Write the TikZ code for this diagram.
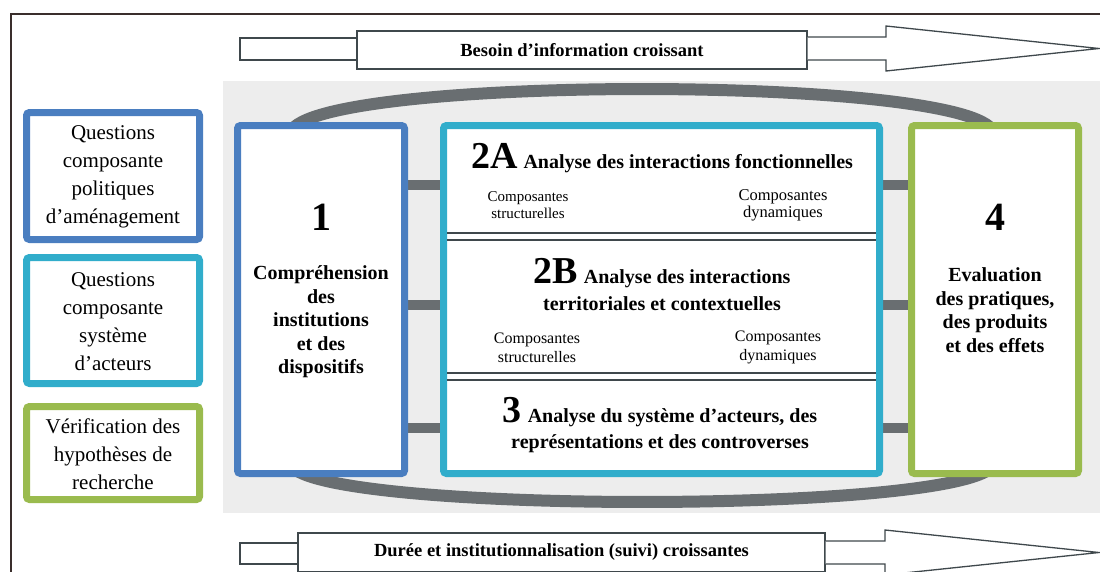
\documentclass[tikz,border=0pt]{standalone}
\usepackage{fontspec}
\setmainfont{Liberation Serif}
\definecolor{cblue}{HTML}{4A7EC0}
\definecolor{ccyan}{HTML}{31ADCB}
\definecolor{cgreen}{HTML}{9ABB4E}
\definecolor{bggray}{HTML}{EDEDED}
\definecolor{ringgray}{HTML}{696E71}
\definecolor{divgray}{HTML}{3F484C}
\definecolor{framec}{HTML}{3A2E2C}
\pgfdeclarelayer{bg}
\pgfsetlayers{bg,main}
\begin{document}
\begin{tikzpicture}[x=1pt,y=-1pt,
  box/.style={draw, line width=7pt, fill=white, rounded corners=3pt, inner sep=0pt},
  qtext/.style={font=\fontsize{21}{28}\selectfont, align=center, inner sep=0pt},
  btext/.style={font=\fontsize{20}{23.5}\selectfont\bfseries, align=center, inner sep=0pt},
  bignum/.style={font=\fontsize{40}{40}\selectfont\bfseries, inner sep=0pt},
  subtext/.style={font=\fontsize{15.5}{17}\selectfont, align=center, inner sep=0pt},
  arrline/.style={draw=divgray, line width=1.3pt, fill=white},
  arrtext/.style={arrline, font=\fontsize{18.5}{20}\selectfont\bfseries, inner sep=0pt},
  bar/.style={draw=ringgray, line width=10.5pt},
  ring/.style={draw=ringgray, line width=12pt},
  divider/.style={draw=divgray, line width=1.8pt}]
\useasboundingbox (0,0) rectangle (1100,571);

% frame
\draw[framec, line width=1.4pt] (11,575) -- (11,14) -- (1105,14);

% left question boxes
\node[box, draw=cblue, minimum width=173, minimum height=127] (q1) at (113,176) {};
\node[qtext] (q1t) at (113,177) {Questions\\composante\\politiques\\d’aménagement};
\node[box, draw=ccyan, minimum width=173, minimum height=126] (q2) at (113,320.5) {};
\node[qtext] (q2t) at (113,322) {Questions\\composante\\système\\d’acteurs};
\node[box, draw=cgreen, minimum width=173, minimum height=93] (q3) at (113,453) {};
\node[qtext] (q3t) at (113,454) {Vérification des\\hypothèses de\\recherche};

% main boxes
\node[box, draw=cblue, minimum width=167, minimum height=348] (b1) at (321,299.5) {};
\node[box, draw=ccyan, minimum width=436, minimum height=348] (b2) at (661.5,299.5) {};
\node[box, draw=cgreen, minimum width=167, minimum height=348] (b4) at (995,299.5) {};

\begin{pgfonlayer}{bg}
  \fill[bggray] (223,81) rectangle (1100,513);
  \draw[ring] (290,135) .. controls (290,73.7) and (994,73.7) .. (994,135)
     -- (994,462) .. controls (994,515.3) and (290,515.3) .. (290,462) -- cycle;
  \foreach \yy in {185,305,428}{
    \draw[bar] (b1.east |- 0,\yy) -- (b2.west |- 0,\yy);
    \draw[bar] (b2.east |- 0,\yy) -- (b4.west |- 0,\yy);
  }
\end{pgfonlayer}

% box 1 texts
\node[bignum] (n1) at (321,217) {1};
\node[btext] (t1) at (321,322) {Compréhension\\des\\institutions\\et des\\dispositifs};

% box 4 texts
\node[bignum] (n4) at (995,217) {4};
\node[btext] (t4) at (995,310) {Evaluation\\des pratiques,\\des produits\\et des effets};

% box 2 dividers
\draw[divider] (447,233) -- (876,233);
\draw[divider] (447,240) -- (876,240);
\draw[divider] (447,373) -- (876,373);
\draw[divider] (447,380) -- (876,380);

% 2A
\node[anchor=base, inner sep=0pt, font=\bfseries] (h2a) at (662,168)
  {{\fontsize{38}{38}\selectfont 2A}\hspace{6pt}{\fontsize{20}{20}\selectfont Analyse des interactions fonctionnelles}};
\node[subtext, font=\fontsize{15}{16.5}\selectfont] (s2al) at (528,205) {Composantes\\structurelles};
\node[subtext, font=\fontsize{16.5}{17}\selectfont] (s2ar) at (783,205.5) {Composantes\\dynamiques};

% 2B
\node[anchor=base, inner sep=0pt, font=\bfseries] (h2b) at (662,283)
  {{\fontsize{38}{38}\selectfont 2B}\hspace{6pt}{\fontsize{20}{20}\selectfont Analyse des interactions}};
\node[anchor=base, inner sep=0pt, font=\fontsize{20}{20}\selectfont\bfseries] (h2b2) at (662,310)
  {territoriales et contextuelles};
\node[subtext, font=\fontsize{16}{19}\selectfont] (s2bl) at (537,347.5) {Composantes\\structurelles};
\node[subtext, font=\fontsize{16}{19}\selectfont] (s2br) at (778,347.5) {Composantes\\dynamiques};

% 3
\node[anchor=base, inner sep=0pt, font=\bfseries] (h3) at (660,422)
  {{\fontsize{38}{38}\selectfont 3}\hspace{6pt}{\fontsize{20}{20}\selectfont Analyse du système d’acteurs, des}};
\node[anchor=base, inner sep=0pt, font=\fontsize{20}{20}\selectfont\bfseries] (h32) at (660,448)
  {représentations et des controverses};

% top arrow
\draw[arrline] (240,38) rectangle (357,60);
\node[arrtext, minimum width=450, minimum height=38] (tbox) at (582,50) {Besoin d’information croissant};
\draw[arrline, line join=miter] (tbox.east |- 0,37) -- (886,37) -- (886,26) -- (1099,48.5) -- (886,71) -- (886,60) -- (tbox.east |- 0,60);

% bottom arrow
\draw[arrline] (240,543) rectangle (298,564);
\node[arrtext, minimum width=527, minimum height=39] (bbox) at (561.5,552.5) {Durée et institutionnalisation (suivi) croissantes};
\draw[arrline, line join=miter] (bbox.east |- 0,541) -- (885,541) -- (885,530) -- (1099,552.5) -- (885,575) -- (885,564) -- (bbox.east |- 0,564);
\end{tikzpicture}
\end{document}
